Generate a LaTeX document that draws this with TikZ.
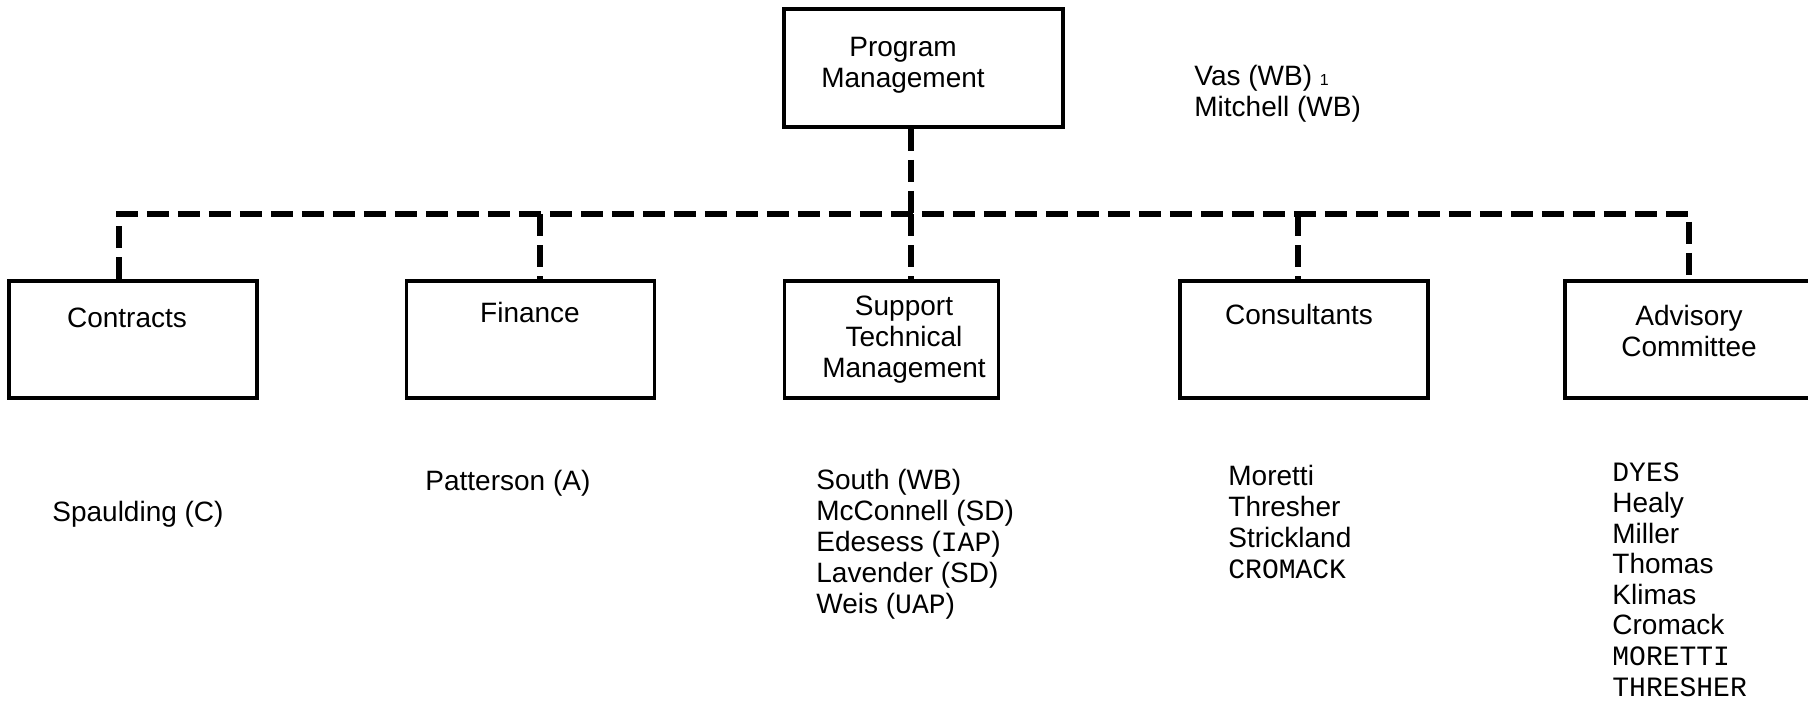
\documentclass[tikz,border=0pt]{standalone}
\usepackage{fontspec}
\setmainfont{Liberation Sans}
\newfontfamily\typewriter{Liberation Mono}
\usetikzlibrary{positioning}

\begin{document}
\begin{tikzpicture}[
    x=0.5pt, y=-0.5pt,
    every node/.style={font=\fontsize{14}{15.5}\selectfont, inner sep=0pt},
    box/.style={draw, line width=1.8pt, minimum width=124pt, minimum height=58.5pt},
    title/.style={anchor=base, align=center},
    names/.style={anchor=base west, align=left},
    link/.style={line width=2.6pt, dash pattern=on 11pt off 4.5pt}
]
\useasboundingbox (0,0) rectangle (1808,701);

% top of the chart
\node[box, minimum width=139.5pt, minimum height=59pt] (pm) at (923.5,68) {};
\node[title] (pm-t) at (903,88) {Program\\Management};
\node[names] (pm-names) at (1194,117) {Vas (WB) {\footnotesize 1}\\Mitchell (WB)};

% second level boxes
\node[box] (contracts) at (133,339.5) {};
\node[box] (finance) at (530.5,339.5) {};
\node[box, minimum width=107pt] (stm) at (891.5,339.5) {};
\node[box] (consult) at (1304,339.5) {};
\node[box] (advisory) at (1689,339.5) {};

\node[title] (contracts-t) at (127,327) {Contracts};
\node[title] (finance-t) at (530,322) {Finance};
\node[title] (stm-t) at (904,377) {Support\\Technical\\Management};
\node[title] (consult-t) at (1299,324) {Consultants};
\node[title] (advisory-t) at (1689,356) {Advisory\\Committee};

% dashed connectors
\coordinate (j1) at (119,214);
\coordinate (j2) at (540,214);
\coordinate (j3) at (911,214);
\coordinate (j4) at (1298,214);
\coordinate (j5) at (1689,214);
\draw[link] (contracts.north -| j1) -- (j1) -- (j5) -- (advisory.north -| j5);
\draw[link] (pm.south -| j3) -- (j3);
\foreach \b/\j in {finance/j2, stm/j3, consult/j4}
    \draw[link] (\j) -- (\b.north -| \j);

% staff lists
\node[names] (contracts-names) at (52,521) {Spaulding (C)};
\node[names] (finance-names) at (425,490) {Patterson (A)};
\node[names] (stm-names) at (816,613) {South (WB)\\McConnell (SD)\\Edesess ({\typewriter IAP})\\Lavender (SD)\\Weis ({\typewriter UAP})};
\node[names] (consult-names) at (1228,578) {Moretti\\Thresher\\Strickland\\{\typewriter CROMACK}};
\node[names, font=\fontsize{14}{15.3}\selectfont] (advisory-names) at (1612,696) {{\typewriter DYES}\\Healy\\Miller\\Thomas\\Klimas\\Cromack\\{\typewriter MORETTI}\\{\typewriter THRESHER}};

\end{tikzpicture}
\end{document}
